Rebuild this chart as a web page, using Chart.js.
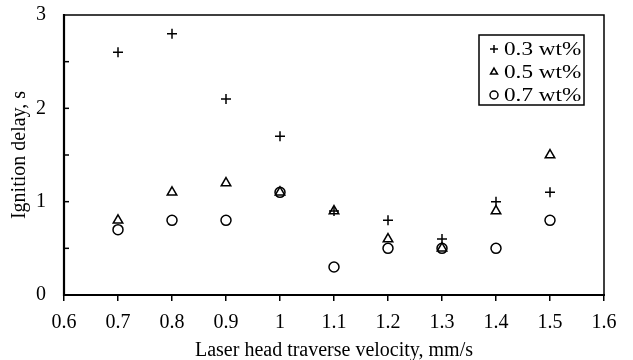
<!DOCTYPE html>
<html><head><meta charset="utf-8">
<script src="https://cdn.jsdelivr.net/npm/chart.js@4"></script>
<style>html,body{margin:0;padding:0;background:#fff}#wrap{width:633px;height:360px;position:relative}</style>
</head><body><div id="wrap"><canvas id="c" width="633" height="360"></canvas></div>
<script>
const velocities = [0.7, 0.8, 0.9, 1.0, 1.1, 1.2, 1.3, 1.4, 1.5];
const delay03 = [2.6, 2.8, 2.1, 1.7, 0.9, 0.8, 0.6, 1.0, 1.1];
const delay05 = [0.8, 1.1, 1.2, 1.1, 0.9, 0.6, 0.5, 0.9, 1.5];
const delay07 = [0.7, 0.8, 0.8, 1.1, 0.3, 0.5, 0.5, 0.5, 0.8];
const seriesLabels = ['0.3 wt%', '0.5 wt%', '0.7 wt%'];
const xTicks = [0.6, 0.7, 0.8, 0.9, 1, 1.1, 1.2, 1.3, 1.4, 1.5, 1.6];
const yTicks = [0, 1, 2, 3];

const FONT = "'Liberation Serif', 'Times New Roman', serif";
const pts = arr => velocities.map((v, i) => ({x: v, y: arr[i]}));
const styles = ['cross', 'triangle', 'circle'];
const radii = [5, 5.5, 5];

const boxPlugin = {
  id: 'box',
  afterDraw(chart) {
    const {ctx, chartArea: a, scales} = chart;
    ctx.save();
    ctx.strokeStyle = '#000';
    ctx.lineWidth = 1.5;
    ctx.beginPath();
    ctx.moveTo(a.left, a.top); ctx.lineTo(a.right, a.top); ctx.lineTo(a.right, a.bottom);
    ctx.stroke();
    ctx.lineWidth = 2.2;
    ctx.beginPath();
    ctx.moveTo(a.left, a.top - 1); ctx.lineTo(a.left, a.bottom); ctx.lineTo(a.right + 1, a.bottom);
    ctx.stroke();
    ctx.lineWidth = 1.5;
    for (let v = 0.5; v < 3; v += 0.5) {
      const y = scales.y.getPixelForValue(v);
      ctx.beginPath(); ctx.moveTo(a.left, y); ctx.lineTo(a.left + 5, y); ctx.stroke();
    }
    // legend
    const lx = 479, ly = 35, lw = 105, lh = 70;
    ctx.fillStyle = '#fff';
    ctx.fillRect(lx, ly, lw, lh);
    ctx.lineWidth = 1.5;
    ctx.strokeRect(lx, ly, lw, lh);
    seriesLabels.forEach((lab, i) => {
      const cy = ly + 14 + i * 23;
      ctx.fillStyle = 'rgba(0,0,0,0)';
      ctx.strokeStyle = '#000';
      ctx.lineWidth = 1.5;
      Chart.helpers.drawPoint(ctx, {pointStyle: styles[i], radius: 4, borderWidth: 1.5}, lx + 15, cy);
      ctx.save();
      ctx.translate(lx + 25, cy + 1);
      ctx.scale(1.22, 1);
      ctx.font = '19px ' + FONT;
      ctx.fillStyle = '#000';
      ctx.textBaseline = 'middle';
      ctx.fillText(lab, 0, 0);
      ctx.restore();
    });
    ctx.restore();
  }
};

new Chart(document.getElementById('c'), {
  type: 'scatter',
  data: {
    datasets: [delay03, delay05, delay07].map((arr, i) => ({
      label: seriesLabels[i],
      data: pts(arr),
      pointStyle: styles[i],
      pointRadius: radii[i],
      pointBorderColor: '#000',
      pointBackgroundColor: 'rgba(0,0,0,0)',
      pointBorderWidth: 1.5
    }))
  },
  options: {
    responsive: false,
    animation: false,
    layout: {padding: {top: 15, right: 29, left: 0, bottom: 0}},
    plugins: {legend: {display: false}, tooltip: {enabled: false}},
    scales: {
      x: {
        type: 'linear', min: 0.6, max: 1.6,
        afterBuildTicks: s => { s.ticks = xTicks.map(v => ({value: v})); },
        afterFit: s => { s.height = 65; s.paddingLeft = 0; s.paddingRight = 0; },
        border: {display: false},
        grid: {drawOnChartArea: false, drawTicks: true, tickLength: 6, color: '#000', lineWidth: 1.5},
        ticks: {color: '#000', font: {family: FONT, size: 20}, padding: 10, maxRotation: 0,
          callback: v => String(Math.round(v * 10) / 10)},
        title: {display: true, text: 'Laser head traverse velocity, mm/s', color: '#000',
          font: {family: FONT, size: 20}, padding: {top: 0, bottom: -3}}
      },
      y: {
        type: 'linear', min: 0, max: 3,
        afterBuildTicks: s => { s.ticks = yTicks.map(v => ({value: v})); },
        afterFit: s => { s.width = 64; s.paddingTop = 0; s.paddingBottom = 0; },
        border: {display: false},
        grid: {display: false, drawTicks: false},
        ticks: {color: '#000', font: {family: FONT, size: 20}, padding: 18},
        title: {display: true, text: 'Ignition delay, s', color: '#000',
          font: {family: FONT, size: 20}, padding: {top: 8, bottom: 0}}
      }
    }
  },
  plugins: [boxPlugin]
});
</script></body></html>
